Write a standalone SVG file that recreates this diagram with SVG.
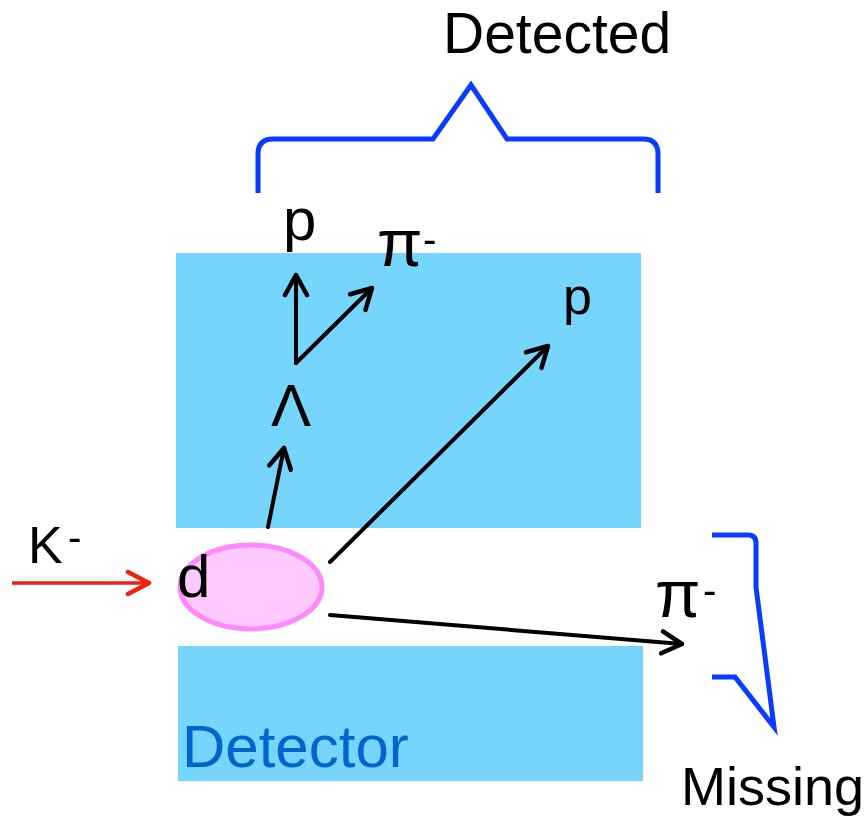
<svg xmlns="http://www.w3.org/2000/svg" width="867" height="822" viewBox="0 0 867 822">
<style>
  .lbl { font-family: "Liberation Sans", Arial, sans-serif; fill: #000; }
  .det { fill: #75d5fd; }
  .brace { fill: none; stroke: #0a3cff; stroke-width: 5; stroke-linejoin: miter; }
  .trk { fill: none; stroke: #000; stroke-width: 4; stroke-linecap: round; marker-end: url(#ah); }
</style>
<defs>
  <marker id="ah" markerUnits="userSpaceOnUse" viewBox="-24 -14 28 28" refX="0" refY="0" markerWidth="28" markerHeight="28" orient="auto">
    <path d="M -20 -11 L 0 0 L -20 11" fill="none" stroke="#000" stroke-width="4.5" stroke-linecap="round" stroke-linejoin="round"/>
  </marker>
  <marker id="ahr" markerUnits="userSpaceOnUse" viewBox="-24 -14 28 28" refX="0" refY="0" markerWidth="28" markerHeight="28" orient="auto">
    <path d="M -21 -11 L 0 0 L -21 11" fill="none" stroke="#ee2211" stroke-width="4.5" stroke-linecap="round" stroke-linejoin="round"/>
  </marker>
</defs>
<rect width="867" height="822" fill="#fff"/>

<g id="detector-top"><rect class="det" x="176" y="253" width="465" height="275"/></g>
<g id="detector-bottom">
  <rect class="det" x="178" y="646" width="465" height="135"/>
  <text x="182" y="767" font-family="Liberation Sans, Arial, sans-serif" font-size="60" fill="#0066cc">Detector</text>
</g>

<g id="target-d">
  <ellipse cx="251" cy="587" rx="71" ry="42" fill="#ffc8ff" stroke="#ff88ff" stroke-width="5"/>
  <text class="lbl" x="177" y="597" font-size="60">d</text>
</g>

<g id="connectors">
  <line x1="12" y1="583" x2="149" y2="583" stroke="#ee2211" stroke-width="3.5" marker-end="url(#ahr)"/>
  <line class="trk" x1="268" y1="527" x2="284" y2="448"/>
  <line class="trk" x1="296" y1="363" x2="296" y2="275"/>
  <line class="trk" x1="296" y1="363" x2="372" y2="288"/>
  <line class="trk" x1="330" y1="562" x2="548" y2="346"/>
  <line class="trk" x1="330" y1="615" x2="682" y2="644"/>
</g>

<g id="kaon"><text class="lbl" x="28" y="563" font-size="52">K<tspan x="68" y="551" font-size="40">-</tspan></text></g>
<g id="lambda"><text class="lbl" x="271" y="426" font-size="60">Λ</text></g>
<g id="proton-top"><text class="lbl" x="283" y="240" font-size="60">p</text></g>
<g id="pion-top"><text class="lbl" x="377" y="266" font-size="66">π<tspan x="423" y="253" font-size="40">-</tspan></text></g>
<g id="proton-right"><text class="lbl" x="563" y="314" font-size="52">p</text></g>
<g id="pion-missing"><text class="lbl" x="655" y="617" font-size="66">π<tspan x="703" y="604" font-size="40">-</tspan></text></g>

<g id="detected-brace">
  <path class="brace" d="M 258 193 V 154 Q 258 139 273 139 H 433 L 471 85 L 507 139 H 643 Q 658 139 658 154 V 193"/>
  <text class="lbl" x="443" y="53" font-size="57">Detected</text>
</g>
<g id="missing-brace">
  <path class="brace" d="M 712 535 H 748 Q 756 535 756 543 V 587 L 774 727 L 735 677 H 712"/>
  <text class="lbl" x="681" y="805" font-size="54">Missing</text>
</g>
</svg>
